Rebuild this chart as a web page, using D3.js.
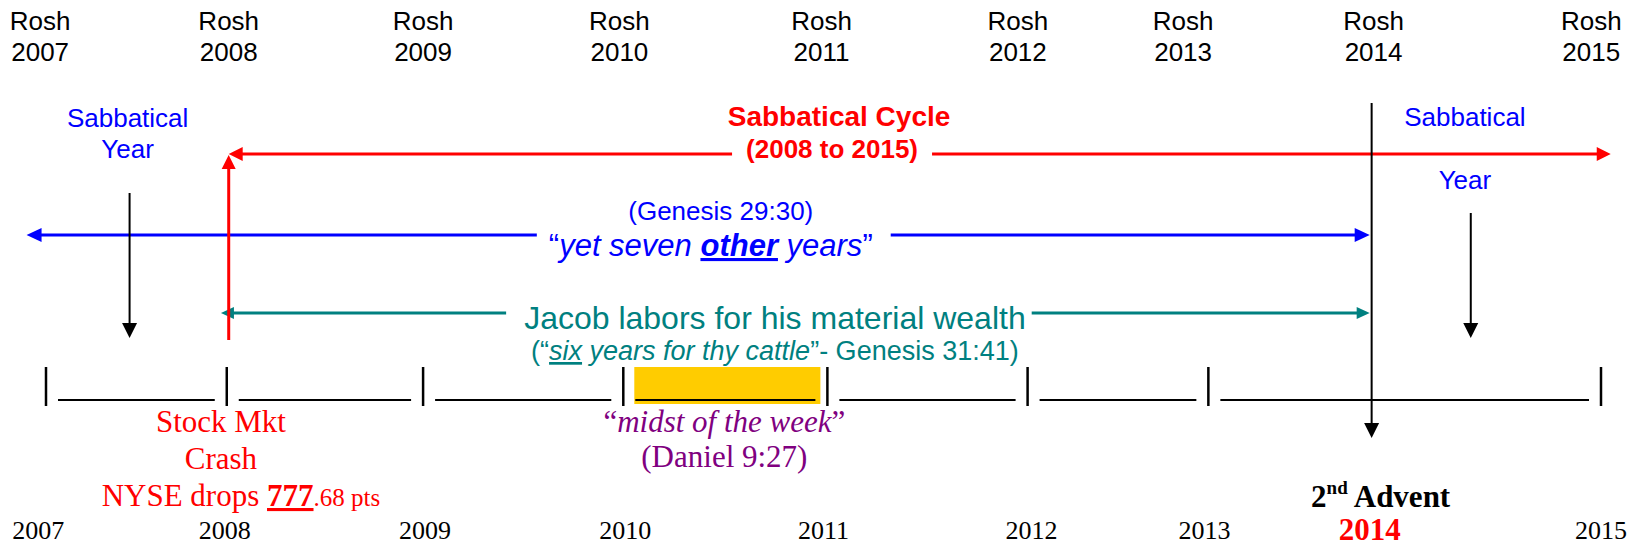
<!DOCTYPE html>
<html>
<head>
<meta charset="utf-8">
<script src="https://cdn.jsdelivr.net/npm/d3@7"></script>
<style>
  body { margin: 0; background: #fff; }
  text { font-family: "Liberation Sans", Arial, sans-serif; }
  .serif { font-family: "Liberation Serif", "Times New Roman", serif; }
</style>
</head>
<body>
<script>
// Timeline data (positions in years)
var roshLabels = ["2007", "2008", "2009", "2010", "2011", "2012", "2013", "2014", "2015"];
var roshAt     = [2006.97, 2007.94, 2008.94, 2009.95, 2010.99, 2012.00, 2012.85, 2013.83, 2014.95];

var yearLabels = ["2007", "2008", "2009", "2010", "2011", "2012", "2013", "2014", "2015"];
var yearAt     = [2006.96, 2007.92, 2008.95, 2009.98, 2011.00, 2012.07, 2012.96, 2013.81, 2015.00];
var adventYear = "2014";

// the "|____|____|" week line
var weekTicks = [2007.00, 2007.93, 2008.94, 2009.97, 2011.02, 2012.05, 2012.98, 2015.00];
var midstWeek = 3;   // interval index highlighted as "midst of the week"

// arrows
var cycleSpan = [2007.94, 2015.05];   // Sabbatical Cycle (2008 to 2015)
var otherSpan = [2006.90, 2013.81];   // yet seven other years
var laborSpan = [2007.90, 2013.81];   // Jacob labors
var sabbaticalAt = [2007.42, 2014.30]; // Sabbatical Year labels
var sabbaticalArrow = [2007.43, 2014.33];
var crashAt = 2007.94;
var adventAt = 2013.82;

// annotation centres
var cycleTextAt = 2011.08;
var otherTextAt = 2010.42;
var laborTextAt = 2010.75;
var crashTextAt = 2007.90;
var midstTextAt = 2010.49;

var w = 1631, h = 547;

var x = d3.scaleLinear()
    .domain([2007, 2015])
    .range([46, 1601]);

var svg = d3.select("body")
    .append("svg")
    .attr("width", w)
    .attr("height", h);

var RED = "#ff0000", BLUE = "#0000ff", TEAL = "#008080", PURPLE = "#800080", YELLOW = "#ffcc00";

// ---- helpers ----
function hArrow(x0, x1, y, color, sw, L, W) {
    svg.append("line")
        .attr("x1", x0 + L - 1).attr("x2", x1 - L + 1)
        .attr("y1", y).attr("y2", y)
        .attr("stroke", color).attr("stroke-width", sw);
    svg.append("path")
        .attr("d", "M" + x0 + "," + y + "L" + (x0 + L) + "," + (y - W) + "L" + (x0 + L) + "," + (y + W) + "Z")
        .attr("fill", color);
    svg.append("path")
        .attr("d", "M" + x1 + "," + y + "L" + (x1 - L) + "," + (y - W) + "L" + (x1 - L) + "," + (y + W) + "Z")
        .attr("fill", color);
}

function vArrow(xx, y0, y1, color, sw, L, W, up) {
    var tip = up ? y0 : y1;
    var base = up ? y0 + L : y1 - L;
    svg.append("line")
        .attr("x1", xx).attr("x2", xx)
        .attr("y1", up ? base - 1 : y0).attr("y2", up ? y1 : base + 1)
        .attr("stroke", color).attr("stroke-width", sw);
    svg.append("path")
        .attr("d", "M" + xx + "," + tip + "L" + (xx - W) + "," + base + "L" + (xx + W) + "," + base + "Z")
        .attr("fill", color);
}

// white gap behind a text that sits on a line
function gap(sel, padL, padR) {
    var b = sel.node().getBBox();
    svg.insert("rect", function() { return sel.node(); })
        .attr("x", b.x - padL).attr("y", b.y)
        .attr("width", b.width + padL + padR).attr("height", b.height)
        .attr("fill", "#fff");
}

// ---- top "Rosh" labels ----
var rosh = svg.selectAll("text.rosh")
    .data(roshLabels)
    .enter()
    .append("text")
    .attr("class", "rosh")
    .attr("text-anchor", "middle")
    .attr("font-size", "26px")
    .attr("fill", "#000");
rosh.append("tspan")
    .attr("x", function(d, i) { return x(roshAt[i]); })
    .attr("y", 30)
    .text("Rosh");
rosh.append("tspan")
    .attr("x", function(d, i) { return x(roshAt[i]); })
    .attr("y", 61)
    .text(function(d) { return d; });

// ---- week line ----
var gapPx = 12;
svg.append("rect")
    .attr("x", x(weekTicks[midstWeek]) + 11)
    .attr("y", 367)
    .attr("width", x(weekTicks[midstWeek + 1]) - x(weekTicks[midstWeek]) - 18)
    .attr("height", 37)
    .attr("fill", YELLOW);

svg.selectAll("line.tick")
    .data(weekTicks)
    .enter()
    .append("line")
    .attr("class", "tick")
    .attr("x1", function(d) { return x(d); })
    .attr("x2", function(d) { return x(d); })
    .attr("y1", 367).attr("y2", 406)
    .attr("stroke", "#000").attr("stroke-width", 2.5);

svg.selectAll("line.seg")
    .data(weekTicks.slice(0, -1))
    .enter()
    .append("line")
    .attr("class", "seg")
    .attr("x1", function(d) { return x(d) + gapPx; })
    .attr("x2", function(d, i) { return x(weekTicks[i + 1]) - gapPx; })
    .attr("y1", 400).attr("y2", 400)
    .attr("stroke", "#000").attr("stroke-width", 2);

// ---- horizontal arrows ----
hArrow(x(cycleSpan[0]), x(cycleSpan[1]), 154, RED, 3, 14, 7);
hArrow(x(otherSpan[0]), x(otherSpan[1]), 235, BLUE, 3, 15, 7);
hArrow(x(laborSpan[0]), x(laborSpan[1]), 313, TEAL, 3, 13, 6);

// ---- vertical arrows ----
vArrow(x(sabbaticalArrow[0]), 193, 338, "#000", 2, 15, 7.5, false);
vArrow(x(sabbaticalArrow[1]), 213, 338, "#000", 2, 15, 7.5, false);
vArrow(x(crashAt), 155, 340, RED, 3, 14, 7, true);
vArrow(x(adventAt), 103, 438, "#000", 2, 15, 7.5, false);

// ---- Sabbatical Cycle ----
svg.append("text")
    .attr("x", x(cycleTextAt)).attr("y", 126)
    .attr("text-anchor", "middle")
    .attr("font-size", "28px").attr("font-weight", "bold")
    .attr("fill", RED)
    .text("Sabbatical Cycle");
var cyc = svg.append("text")
    .attr("x", x(cycleTextAt) - 7).attr("y", 158)
    .attr("text-anchor", "middle")
    .attr("font-size", "26px").attr("font-weight", "bold")
    .attr("fill", RED)
    .text("(2008 to 2015)");
gap(cyc, 14, 14);

// ---- Sabbatical Year labels ----
svg.append("text")
    .attr("x", x(sabbaticalAt[0])).attr("y", 127)
    .attr("text-anchor", "middle").attr("font-size", "26px").attr("fill", BLUE)
    .text("Sabbatical");
svg.append("text")
    .attr("x", x(sabbaticalAt[0])).attr("y", 158)
    .attr("text-anchor", "middle").attr("font-size", "26px").attr("fill", BLUE)
    .text("Year");
svg.append("text")
    .attr("x", x(sabbaticalAt[1])).attr("y", 126)
    .attr("text-anchor", "middle").attr("font-size", "26px").attr("fill", BLUE)
    .text("Sabbatical");
svg.append("text")
    .attr("x", x(sabbaticalAt[1])).attr("y", 189)
    .attr("text-anchor", "middle").attr("font-size", "26px").attr("fill", BLUE)
    .text("Year");

// ---- yet seven other years ----
svg.append("text")
    .attr("x", x(otherTextAt) + 10).attr("y", 220)
    .attr("text-anchor", "middle").attr("font-size", "26px").attr("fill", BLUE)
    .text("(Genesis 29:30)");
var oth = svg.append("text")
    .attr("x", x(otherTextAt)).attr("y", 256)
    .attr("text-anchor", "middle").attr("font-size", "31px").attr("fill", BLUE);
oth.append("tspan").text("\u201c");
oth.append("tspan").attr("font-style", "italic").text("yet seven ");
oth.append("tspan").attr("font-style", "italic").attr("font-weight", "bold")
    .attr("text-decoration", "underline").text("other");
oth.append("tspan").attr("font-style", "italic").text(" years");
oth.append("tspan").text("\u201d");
gap(oth, 12, 18);

// ---- Jacob labors ----
var lab = svg.append("text")
    .attr("x", x(laborTextAt)).attr("y", 329)
    .attr("text-anchor", "middle").attr("font-size", "32px").attr("fill", TEAL)
    .text("Jacob labors for his material wealth");
gap(lab, 18, 6);
var six = svg.append("text")
    .attr("x", x(laborTextAt)).attr("y", 360)
    .attr("text-anchor", "middle").attr("font-size", "27px").attr("fill", TEAL);
six.append("tspan").text("(\u201c");
six.append("tspan").attr("font-style", "italic").attr("text-decoration", "underline").text("six");
six.append("tspan").attr("font-style", "italic").text(" years for thy cattle");
six.append("tspan").text("\u201d- Genesis 31:41)");

// ---- Stock market crash ----
svg.append("text").attr("class", "serif")
    .attr("x", x(crashTextAt)).attr("y", 432)
    .attr("text-anchor", "middle").attr("font-size", "31px").attr("fill", RED)
    .text("Stock Mkt");
svg.append("text").attr("class", "serif")
    .attr("x", x(crashTextAt)).attr("y", 469)
    .attr("text-anchor", "middle").attr("font-size", "31px").attr("fill", RED)
    .text("Crash");
var nyse = svg.append("text").attr("class", "serif")
    .attr("x", x(crashTextAt) + 20).attr("y", 506)
    .attr("text-anchor", "middle").attr("font-size", "31px").attr("fill", RED);
nyse.append("tspan").text("NYSE drops ");
nyse.append("tspan").attr("font-weight", "bold").attr("text-decoration", "underline").text("777");
nyse.append("tspan").attr("font-size", "25px").text(".68 pts");

// ---- midst of the week ----
var mid = svg.append("text").attr("class", "serif")
    .attr("x", x(midstTextAt)).attr("y", 432)
    .attr("text-anchor", "middle").attr("font-size", "31px").attr("fill", PURPLE);
mid.append("tspan").text("\u201c");
mid.append("tspan").attr("font-style", "italic").text("midst of the week");
mid.append("tspan").text("\u201d");
svg.append("text").attr("class", "serif")
    .attr("x", x(midstTextAt)).attr("y", 467)
    .attr("text-anchor", "middle").attr("font-size", "31px").attr("fill", PURPLE)
    .text("(Daniel 9:27)");

// ---- 2nd Advent ----
var adv = svg.append("text").attr("class", "serif")
    .attr("x", x(adventAt) + 9).attr("y", 507)
    .attr("text-anchor", "middle").attr("font-size", "31px").attr("font-weight", "bold")
    .attr("fill", "#000");
adv.append("tspan").text("2");
adv.append("tspan").attr("font-size", "19px").attr("dy", -13).text("nd");
adv.append("tspan").attr("dy", 13).text(" Advent");

// ---- bottom year labels ----
svg.selectAll("text.year")
    .data(yearLabels)
    .enter()
    .append("text")
    .attr("class", "year serif")
    .attr("x", function(d, i) { return x(yearAt[i]); })
    .attr("y", function(d) { return d === adventYear ? 540 : 539; })
    .attr("text-anchor", "middle")
    .attr("font-size", function(d) { return d === adventYear ? "31px" : "26px"; })
    .attr("font-weight", function(d) { return d === adventYear ? "bold" : "normal"; })
    .attr("fill", function(d) { return d === adventYear ? RED : "#000"; })
    .text(function(d) { return d; });
</script>
</body>
</html>
